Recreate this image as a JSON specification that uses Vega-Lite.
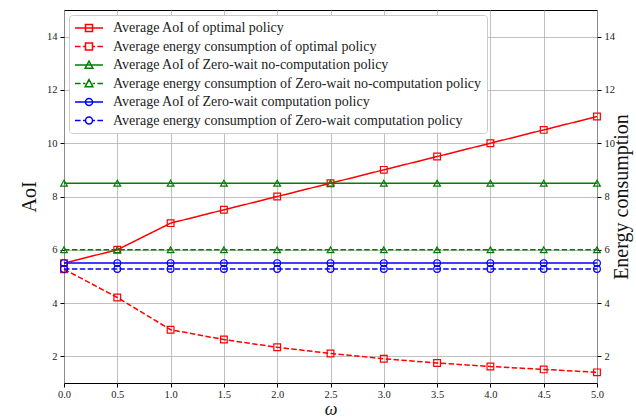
{
  "$schema": "https://vega.github.io/schema/vega-lite/v6.json",
  "autosize": {"type": "none"},
  "width": 533,
  "height": 373,
  "padding": {"left": 64, "top": 10, "right": 39, "bottom": 36},
  "background": "white",
  "config": {
    "view": {"stroke": "black", "strokeWidth": 1},
    "font": "Liberation Serif",
    "axis": {"labelFont": "Liberation Serif", "titleFont": "Liberation Serif", "labelColor": "#222", "titleColor": "#111", "titleFontWeight": "normal", "tickColor": "black", "domain": false, "gridColor": "#b0b0b0", "gridWidth": 0.8, "labelFlush": false}
  },
  "data": {"values": [
    {"omega": 0.0, "value": 5.5, "series": "Average AoI of optimal policy"},
    {"omega": 0.5, "value": 6.0, "series": "Average AoI of optimal policy"},
    {"omega": 1.0, "value": 7.0, "series": "Average AoI of optimal policy"},
    {"omega": 1.5, "value": 7.5, "series": "Average AoI of optimal policy"},
    {"omega": 2.0, "value": 8.0, "series": "Average AoI of optimal policy"},
    {"omega": 2.5, "value": 8.5, "series": "Average AoI of optimal policy"},
    {"omega": 3.0, "value": 9.0, "series": "Average AoI of optimal policy"},
    {"omega": 3.5, "value": 9.5, "series": "Average AoI of optimal policy"},
    {"omega": 4.0, "value": 10.0, "series": "Average AoI of optimal policy"},
    {"omega": 4.5, "value": 10.5, "series": "Average AoI of optimal policy"},
    {"omega": 5.0, "value": 11.0, "series": "Average AoI of optimal policy"},
    {"omega": 0.0, "value": 5.27, "series": "Average energy consumption of optimal policy"},
    {"omega": 0.5, "value": 4.21, "series": "Average energy consumption of optimal policy"},
    {"omega": 1.0, "value": 3.0, "series": "Average energy consumption of optimal policy"},
    {"omega": 1.5, "value": 2.63, "series": "Average energy consumption of optimal policy"},
    {"omega": 2.0, "value": 2.34, "series": "Average energy consumption of optimal policy"},
    {"omega": 2.5, "value": 2.11, "series": "Average energy consumption of optimal policy"},
    {"omega": 3.0, "value": 1.91, "series": "Average energy consumption of optimal policy"},
    {"omega": 3.5, "value": 1.75, "series": "Average energy consumption of optimal policy"},
    {"omega": 4.0, "value": 1.62, "series": "Average energy consumption of optimal policy"},
    {"omega": 4.5, "value": 1.51, "series": "Average energy consumption of optimal policy"},
    {"omega": 5.0, "value": 1.4, "series": "Average energy consumption of optimal policy"},
    {"omega": 0.0, "value": 8.5, "series": "Average AoI of Zero-wait no-computation policy"},
    {"omega": 0.5, "value": 8.5, "series": "Average AoI of Zero-wait no-computation policy"},
    {"omega": 1.0, "value": 8.5, "series": "Average AoI of Zero-wait no-computation policy"},
    {"omega": 1.5, "value": 8.5, "series": "Average AoI of Zero-wait no-computation policy"},
    {"omega": 2.0, "value": 8.5, "series": "Average AoI of Zero-wait no-computation policy"},
    {"omega": 2.5, "value": 8.5, "series": "Average AoI of Zero-wait no-computation policy"},
    {"omega": 3.0, "value": 8.5, "series": "Average AoI of Zero-wait no-computation policy"},
    {"omega": 3.5, "value": 8.5, "series": "Average AoI of Zero-wait no-computation policy"},
    {"omega": 4.0, "value": 8.5, "series": "Average AoI of Zero-wait no-computation policy"},
    {"omega": 4.5, "value": 8.5, "series": "Average AoI of Zero-wait no-computation policy"},
    {"omega": 5.0, "value": 8.5, "series": "Average AoI of Zero-wait no-computation policy"},
    {"omega": 0.0, "value": 6.0, "series": "Average energy consumption of Zero-wait no-computation policy"},
    {"omega": 0.5, "value": 6.0, "series": "Average energy consumption of Zero-wait no-computation policy"},
    {"omega": 1.0, "value": 6.0, "series": "Average energy consumption of Zero-wait no-computation policy"},
    {"omega": 1.5, "value": 6.0, "series": "Average energy consumption of Zero-wait no-computation policy"},
    {"omega": 2.0, "value": 6.0, "series": "Average energy consumption of Zero-wait no-computation policy"},
    {"omega": 2.5, "value": 6.0, "series": "Average energy consumption of Zero-wait no-computation policy"},
    {"omega": 3.0, "value": 6.0, "series": "Average energy consumption of Zero-wait no-computation policy"},
    {"omega": 3.5, "value": 6.0, "series": "Average energy consumption of Zero-wait no-computation policy"},
    {"omega": 4.0, "value": 6.0, "series": "Average energy consumption of Zero-wait no-computation policy"},
    {"omega": 4.5, "value": 6.0, "series": "Average energy consumption of Zero-wait no-computation policy"},
    {"omega": 5.0, "value": 6.0, "series": "Average energy consumption of Zero-wait no-computation policy"},
    {"omega": 0.0, "value": 5.5, "series": "Average AoI of Zero-wait computation policy"},
    {"omega": 0.5, "value": 5.5, "series": "Average AoI of Zero-wait computation policy"},
    {"omega": 1.0, "value": 5.5, "series": "Average AoI of Zero-wait computation policy"},
    {"omega": 1.5, "value": 5.5, "series": "Average AoI of Zero-wait computation policy"},
    {"omega": 2.0, "value": 5.5, "series": "Average AoI of Zero-wait computation policy"},
    {"omega": 2.5, "value": 5.5, "series": "Average AoI of Zero-wait computation policy"},
    {"omega": 3.0, "value": 5.5, "series": "Average AoI of Zero-wait computation policy"},
    {"omega": 3.5, "value": 5.5, "series": "Average AoI of Zero-wait computation policy"},
    {"omega": 4.0, "value": 5.5, "series": "Average AoI of Zero-wait computation policy"},
    {"omega": 4.5, "value": 5.5, "series": "Average AoI of Zero-wait computation policy"},
    {"omega": 5.0, "value": 5.5, "series": "Average AoI of Zero-wait computation policy"},
    {"omega": 0.0, "value": 5.28, "series": "Average energy consumption of Zero-wait computation policy"},
    {"omega": 0.5, "value": 5.28, "series": "Average energy consumption of Zero-wait computation policy"},
    {"omega": 1.0, "value": 5.28, "series": "Average energy consumption of Zero-wait computation policy"},
    {"omega": 1.5, "value": 5.28, "series": "Average energy consumption of Zero-wait computation policy"},
    {"omega": 2.0, "value": 5.28, "series": "Average energy consumption of Zero-wait computation policy"},
    {"omega": 2.5, "value": 5.28, "series": "Average energy consumption of Zero-wait computation policy"},
    {"omega": 3.0, "value": 5.28, "series": "Average energy consumption of Zero-wait computation policy"},
    {"omega": 3.5, "value": 5.28, "series": "Average energy consumption of Zero-wait computation policy"},
    {"omega": 4.0, "value": 5.28, "series": "Average energy consumption of Zero-wait computation policy"},
    {"omega": 4.5, "value": 5.28, "series": "Average energy consumption of Zero-wait computation policy"},
    {"omega": 5.0, "value": 5.28, "series": "Average energy consumption of Zero-wait computation policy"}
  ]},
  "encoding": {
    "x": {"field": "omega", "type": "quantitative",
      "scale": {"domain": [0, 5], "nice": false, "zero": false},
      "axis": {"values": [0, 0.5, 1, 1.5, 2, 2.5, 3, 3.5, 4, 4.5, 5], "format": ".1f", "labelFontSize": 10.5, "tickSize": 4, "labelPadding": 2, "grid": true, "title": "ω", "titleFontSize": 18, "titleFontStyle": "italic", "titlePadding": 1}},
    "color": {"field": "series", "type": "nominal", "sort": null,
      "scale": {"domain": ["Average AoI of optimal policy", "Average energy consumption of optimal policy", "Average AoI of Zero-wait no-computation policy", "Average energy consumption of Zero-wait no-computation policy", "Average AoI of Zero-wait computation policy", "Average energy consumption of Zero-wait computation policy"],
        "range": ["#ff0000", "#ff0000", "#008000", "#008000", "#0000ff", "#0000ff"]}}
  },
  "layer": [
    {
      "mark": {"type": "line", "strokeWidth": 1.5},
      "encoding": {
        "y": {"field": "value", "type": "quantitative",
          "scale": {"domain": [1, 15], "nice": false, "zero": false},
          "axis": {"orient": "left", "values": [2, 4, 6, 8, 10, 12, 14], "labelFontSize": 10.5, "tickSize": 4, "labelPadding": 3, "grid": true, "title": "AoI", "titleFontSize": 20, "titlePadding": 7}},
        "color": {"field": "series", "type": "nominal", "legend": null},
        "strokeDash": {"field": "series", "type": "nominal", "legend": null,
          "scale": {"domain": ["Average AoI of optimal policy", "Average energy consumption of optimal policy", "Average AoI of Zero-wait no-computation policy", "Average energy consumption of Zero-wait no-computation policy", "Average AoI of Zero-wait computation policy", "Average energy consumption of Zero-wait computation policy"],
            "range": [[1, 0], [5.5, 2.4], [1, 0], [5.5, 2.4], [1, 0], [5.5, 2.4]]}}
      }
    },
    {
      "mark": {"type": "point", "filled": false, "strokeWidth": 1.2, "size": 45, "opacity": 1},
      "encoding": {
        "y": {"field": "value", "type": "quantitative",
          "scale": {"domain": [1, 15], "nice": false, "zero": false},
          "axis": {"orient": "right", "values": [2, 4, 6, 8, 10, 12, 14], "labelFontSize": 10.5, "tickSize": 4, "labelPadding": 3, "grid": false, "title": "Energy consumption", "titleFontSize": 20, "titlePadding": -3, "titleAngle": 270, "titleBaseline": "top"}},
        "color": {"field": "series", "type": "nominal", "legend": null},
        "shape": {"field": "series", "type": "nominal", "legend": null,
          "scale": {"domain": ["Average AoI of optimal policy", "Average energy consumption of optimal policy", "Average AoI of Zero-wait no-computation policy", "Average energy consumption of Zero-wait no-computation policy", "Average AoI of Zero-wait computation policy", "Average energy consumption of Zero-wait computation policy"],
            "range": ["square", "square", "triangle-up", "triangle-up", "circle", "circle"]}}
      }
    },
    {
      "mark": {"type": "point", "filled": false, "strokeWidth": 1.5, "opacity": 0},
      "encoding": {
        "y": {"field": "value", "type": "quantitative", "scale": {"domain": [1, 15], "nice": false, "zero": false}, "axis": null},
        "color": {"field": "series", "type": "nominal",
          "legend": {"orient": "top-left", "offset": 5, "title": null, "padding": 5, "strokeColor": "#cccccc", "cornerRadius": 3, "fillColor": "white", "labelFont": "Liberation Serif", "labelFontSize": 14, "labelColor": "#222", "labelLimit": 500, "symbolSize": 196, "symbolStrokeWidth": 1.5, "symbolOpacity": 1, "labelOffset": 23, "rowPadding": 3.5}},
        "shape": {"field": "series", "type": "nominal",
          "scale": {"domain": ["Average AoI of optimal policy", "Average energy consumption of optimal policy", "Average AoI of Zero-wait no-computation policy", "Average energy consumption of Zero-wait no-computation policy", "Average AoI of Zero-wait computation policy", "Average energy consumption of Zero-wait computation policy"],
            "range": [
              "M-1,0H3M0.5,-0.5H1.5V0.5H0.5Z",
              "M-1,0H-0.2M0.15,0H0.5M1.5,0H1.85M2.2,0H3M0.5,-0.5H1.5V0.5H0.5Z",
              "M-1,0H3M1,-0.55L1.55,0.45H0.45Z",
              "M-1,0H-0.2M0.15,0H0.5M1.5,0H1.85M2.2,0H3M1,-0.55L1.55,0.45H0.45Z",
              "M-1,0H3M1.5,0A0.5,0.5 0 1 1 0.5,0A0.5,0.5 0 1 1 1.5,0Z",
              "M-1,0H-0.2M0.15,0H0.5M1.5,0H1.85M2.2,0H3M1.5,0A0.5,0.5 0 1 1 0.5,0A0.5,0.5 0 1 1 1.5,0Z"
            ]},
          "legend": {"orient": "top-left", "offset": 5, "title": null, "padding": 5, "strokeColor": "#cccccc", "cornerRadius": 3, "fillColor": "white", "labelFont": "Liberation Serif", "labelFontSize": 14, "labelColor": "#222", "labelLimit": 500, "symbolSize": 196, "symbolStrokeWidth": 1.5, "symbolOpacity": 1, "labelOffset": 23, "rowPadding": 3.5}}
      }
    }
  ],
  "resolve": {
    "scale": {"y": "independent", "shape": "independent"},
    "legend": {"color": "independent", "shape": "independent"}
  }
}
